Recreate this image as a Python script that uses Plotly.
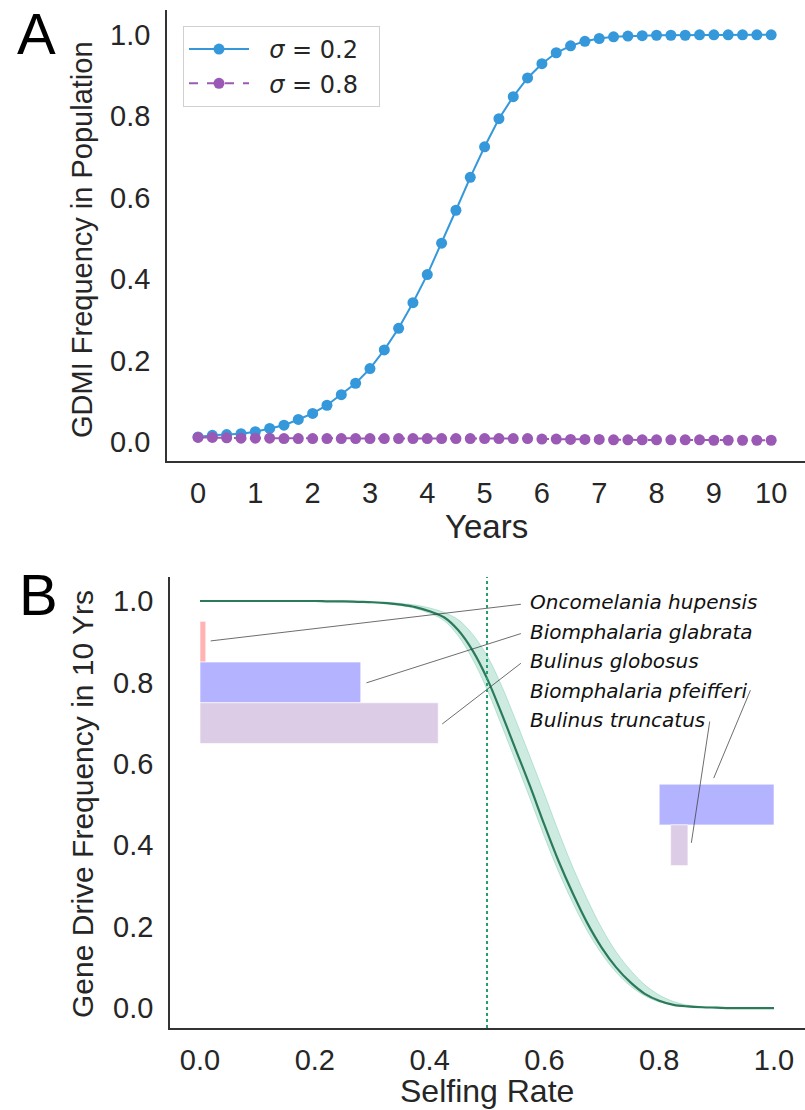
import plotly.graph_objects as go

# ---------------- Panel A data ----------------
years = [i * 0.25 for i in range(41)]
freq_sigma02 = [0.012, 0.016, 0.018, 0.020, 0.025, 0.033, 0.041, 0.055, 0.070, 0.090,
                0.116, 0.144, 0.180, 0.226, 0.279, 0.342, 0.411, 0.488, 0.569, 0.650,
                0.725, 0.794, 0.848, 0.894, 0.929, 0.956, 0.973, 0.984, 0.991, 0.995,
                0.997, 0.998, 0.999, 0.999, 0.999, 1.000, 1.000, 1.000, 1.000, 1.000, 1.000]
freq_sigma08 = [0.011, 0.011, 0.010, 0.009, 0.009, 0.009, 0.008, 0.008, 0.008, 0.008,
                0.008, 0.008, 0.008, 0.008, 0.008, 0.008, 0.008, 0.008, 0.008, 0.008,
                0.008, 0.008, 0.008, 0.008, 0.007, 0.007, 0.006, 0.006, 0.006, 0.005,
                0.005, 0.005, 0.005, 0.005, 0.005, 0.005, 0.004, 0.004, 0.004, 0.004, 0.004]
year_ticks = list(range(11))

# ---------------- Panel B data ----------------
selfing = [i * 0.025 for i in range(41)]
drive_mean = [1.000, 1.000, 1.000, 1.000, 1.000, 1.000, 1.000, 1.000, 1.000, 0.999,
              0.999, 0.998, 0.997, 0.995, 0.991, 0.985, 0.975, 0.960, 0.928, 0.878,
              0.810, 0.725, 0.635, 0.545, 0.450, 0.360, 0.280, 0.208, 0.148, 0.100,
              0.063, 0.035, 0.018, 0.008, 0.004, 0.002, 0.001, 0.000, 0.000, 0.000, 0.000]
drive_upper = [1.000, 1.000, 1.000, 1.000, 1.000, 1.000, 1.000, 1.000, 1.000, 1.000,
               1.000, 0.999, 0.998, 0.997, 0.994, 0.990, 0.983, 0.972, 0.954, 0.918,
               0.866, 0.793, 0.707, 0.617, 0.526, 0.432, 0.344, 0.266, 0.196, 0.138,
               0.093, 0.057, 0.032, 0.016, 0.007, 0.0035, 0.0018, 0.001, 0.000, 0.000, 0.000]
drive_lower = [1.000, 1.000, 1.000, 1.000, 1.000, 1.000, 1.000, 1.000, 0.999, 0.999,
               0.998, 0.997, 0.996, 0.994, 0.989, 0.982, 0.970, 0.952, 0.914, 0.857,
               0.783, 0.696, 0.606, 0.515, 0.421, 0.334, 0.257, 0.189, 0.133, 0.088,
               0.054, 0.030, 0.015, 0.007, 0.003, 0.0015, 0.0007, 0.000, 0.000, 0.000, 0.000]
threshold = 0.5

species = ["Oncomelania hupensis", "Biomphalaria glabrata", "Bulinus globosus",
           "Biomphalaria pfeifferi", "Bulinus truncatus"]
self_low = [0.0, 0.0, 0.0, 0.80, 0.82]
self_high = [0.01, 0.28, 0.415, 1.0, 0.85]
bar_center = [0.9, 0.8, 0.7, 0.5, 0.4]
bar_colors = ["#ffb3b3", "#b3b3ff", "#ddcce6", "#b3b3ff", "#ddcce6"]
label_x = [0.571, 0.571, 0.571, 0.571, 0.571]
label_y = [0.998, 0.925, 0.852, 0.780, 0.708]
leader_from = [(0.559, 0.992), (0.559, 0.920), (0.559, 0.847), (0.959, 0.781), (0.888, 0.704)]
leader_to = [(0.0186, 0.902), (0.290, 0.799), (0.422, 0.698), (0.895, 0.565), (0.856, 0.406)]
ytick_vals = [0.0, 0.2, 0.4, 0.6, 0.8, 1.0]
btick_vals = [0.0, 0.2, 0.4, 0.6, 0.8, 1.0]

W, H = 805, 1110
BLUE = "#3498db"
PURPLE = "#9b59b6"
TXT = "#262626"
SANS = "Liberation Sans, Arial, sans-serif"

fig = go.Figure()

# Panel A
fig.add_trace(go.Scatter(x=years, y=freq_sigma02, mode="lines+markers",
                         line=dict(color=BLUE, width=2), marker=dict(color=BLUE, size=11),
                         name="&nbsp;&nbsp;<i>σ</i> = 0.2&nbsp;&nbsp;", xaxis="x", yaxis="y"))
fig.add_trace(go.Scatter(x=years, y=freq_sigma08, mode="lines+markers",
                         line=dict(color=PURPLE, width=2, dash="dash"), marker=dict(color=PURPLE, size=11),
                         name="&nbsp;&nbsp;<i>σ</i> = 0.8&nbsp;&nbsp;", xaxis="x", yaxis="y"))

# Panel B bars
for i in range(len(species)):
    fig.add_trace(go.Bar(y=[bar_center[i]], x=[self_high[i] - self_low[i]], base=[self_low[i]],
                         orientation="h", width=0.1,
                         marker=dict(color=bar_colors[i], line=dict(color="rgba(255,255,255,0.6)", width=1)),
                         showlegend=False, xaxis="x2", yaxis="y2"))

# band
fig.add_trace(go.Scatter(x=selfing, y=drive_upper, mode="lines",
                         line=dict(color="rgba(102,194,164,0.5)", width=0.8, shape="spline"),
                         showlegend=False, xaxis="x2", yaxis="y2"))
fig.add_trace(go.Scatter(x=selfing, y=drive_lower, mode="lines",
                         line=dict(color="rgba(102,194,164,0.5)", width=0.8, shape="spline"),
                         fill="tonexty", fillcolor="rgba(102,194,164,0.32)",
                         showlegend=False, xaxis="x2", yaxis="y2"))
fig.add_trace(go.Scatter(x=selfing, y=drive_mean, mode="lines",
                         line=dict(color="#2b7a5a", width=2.2, shape="spline"),
                         showlegend=False, xaxis="x2", yaxis="y2"))

# leader lines
for (fx, fy), (tx, ty) in zip(leader_from, leader_to):
    fig.add_trace(go.Scatter(x=[fx, tx], y=[fy, ty], mode="lines",
                             line=dict(color="rgba(60,60,60,0.75)", width=1),
                             showlegend=False, xaxis="x2", yaxis="y2"))

annotations = []
for name, lx, ly in zip(species, label_x, label_y):
    annotations.append(dict(x=lx, y=ly, xref="x2", yref="y2", text="<i>" + name + "</i>",
                            showarrow=False, xanchor="left", yanchor="middle",
                            font=dict(family="DejaVu Sans", size=20, color="#111111")))

# axis titles & panel letters
annotations += [
    dict(x=486 / W, y=1 - 526 / H, xref="paper", yref="paper", text="Years", showarrow=False,
         xanchor="center", yanchor="middle", font=dict(family=SANS, size=33, color=TXT)),
    dict(x=487 / W, y=1 - 1091 / H, xref="paper", yref="paper", text="Selfing Rate", showarrow=False,
         xanchor="center", yanchor="middle", font=dict(family=SANS, size=32, color=TXT)),
    dict(x=82 / W, y=1 - 240 / H, xref="paper", yref="paper", text="GDMI Frequency in Population",
         showarrow=False, textangle=-90, xanchor="center", yanchor="middle",
         font=dict(family=SANS, size=29, color=TXT)),
    dict(x=82 / W, y=1 - 804 / H, xref="paper", yref="paper", text="Gene Drive Frequency in 10 Yrs",
         showarrow=False, textangle=-90, xanchor="center", yanchor="middle",
         font=dict(family=SANS, size=30, color=TXT)),
    dict(x=36 / W, y=1 - 33 / H, xref="paper", yref="paper", text="A", showarrow=False,
         xanchor="center", yanchor="middle", font=dict(family=SANS, size=58, color="#000000")),
    dict(x=38 / W, y=1 - 594 / H, xref="paper", yref="paper", text="B", showarrow=False,
         xanchor="center", yanchor="middle", font=dict(family=SANS, size=58, color="#000000")),
]

axis_common = dict(showgrid=False, zeroline=False, showline=True, linecolor="#333333", linewidth=1.6,
                   ticks="", tickfont=dict(family=SANS, size=29, color=TXT))

fig.update_layout(
    width=W, height=H, margin=dict(l=0, r=0, t=0, b=0),
    paper_bgcolor="white", plot_bgcolor="white",
    barmode="overlay",
    xaxis=dict(domain=[167 / W, 1.0], range=[-0.541, 10.59], tickvals=year_ticks,
               anchor="y", ticklabelstandoff=5, **axis_common),
    yaxis=dict(domain=[1 - 461 / H, 1 - 10 / H], range=[-0.047, 1.061], tickvals=ytick_vals,
               tickformat=".1f", anchor="x", ticklabelstandoff=9, **axis_common),
    xaxis2=dict(domain=[170 / W, 1.0], range=[-0.0523, 1.054], tickvals=btick_vals,
                tickformat=".1f", anchor="y2", ticklabelstandoff=5, **axis_common),
    yaxis2=dict(domain=[1 - 1028 / H, 1 - 577 / H], range=[-0.049, 1.059], tickvals=btick_vals,
                tickformat=".1f", anchor="x2", ticklabelstandoff=9, **axis_common),
    legend=dict(x=183 / W, y=1 - 26 / H, xanchor="left", yanchor="top", traceorder="normal",
                bgcolor="white", bordercolor="#d0d0d0", borderwidth=1,
                font=dict(family="DejaVu Sans", size=24, color=TXT), itemwidth=60,
                tracegroupgap=0),
    annotations=annotations,
    shapes=[dict(type="line", xref="x2", yref="y2 domain", x0=threshold, x1=threshold, y0=0, y1=1,
                 line=dict(color="#2a9d6f", width=2, dash="dot"))],
    showlegend=True,
)

fig.write_html("out.html", config={"displayModeBar": False},
               post_script="document.body.style.margin='0px';")
